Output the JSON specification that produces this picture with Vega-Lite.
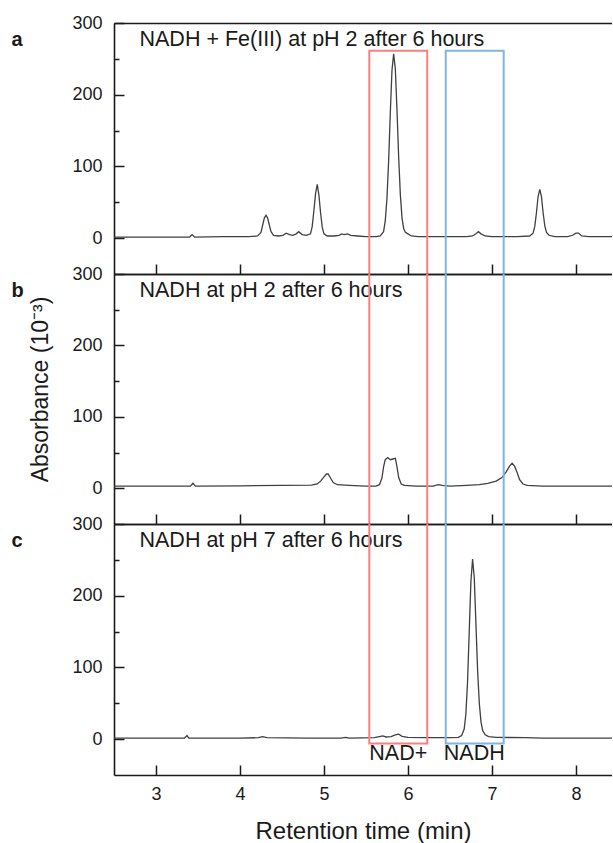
{
  "$schema": "https://vega.github.io/schema/vega-lite/v6.json",
  "padding": {"left": 11, "top": 14, "right": 0, "bottom": 0},
  "background": "white",
  "config": {
    "view": {"stroke": null},
    "font": "Liberation Sans",
    "axis": {
      "labelFont": "Liberation Sans", "titleFont": "Liberation Sans",
      "labelColor": "#1a1a1a", "titleColor": "#1a1a1a",
      "domainColor": "#1a1a1a", "tickColor": "#1a1a1a",
      "domainWidth": 1.6, "tickWidth": 1.5, "grid": false,
      "labelFontSize": 18, "titleFontWeight": "normal"
    },
    "text": {"font": "Liberation Sans"}
  },
  "datasets": {
    "a": [
      {"t":2.5,"v":1.5},{"t":3.0,"v":1.5},{"t":3.40,"v":1.5},{"t":3.43,"v":5},{"t":3.46,"v":1.5},{"t":3.8,"v":2},{"t":4.1,"v":2},
      {"t":4.21,"v":3},{"t":4.25,"v":8},{"t":4.27,"v":18},{"t":4.29,"v":28},{"t":4.31,"v":32},{"t":4.33,"v":28},{"t":4.35,"v":18},{"t":4.37,"v":9},{"t":4.40,"v":4},
      {"t":4.46,"v":3},{"t":4.51,"v":4},{"t":4.55,"v":7},{"t":4.59,"v":5},{"t":4.63,"v":4},{"t":4.67,"v":6},{"t":4.70,"v":9},{"t":4.74,"v":5},{"t":4.79,"v":4},
      {"t":4.84,"v":6},{"t":4.86,"v":16},{"t":4.88,"v":38},{"t":4.90,"v":62},{"t":4.92,"v":75},{"t":4.94,"v":60},{"t":4.96,"v":35},{"t":4.98,"v":15},{"t":5.00,"v":6},{"t":5.04,"v":3},
      {"t":5.12,"v":3},{"t":5.18,"v":4},{"t":5.21,"v":6},{"t":5.24,"v":5},{"t":5.28,"v":6},{"t":5.32,"v":4},{"t":5.40,"v":3},{"t":5.50,"v":2},{"t":5.62,"v":2},
      {"t":5.67,"v":3},{"t":5.71,"v":9},{"t":5.73,"v":24},{"t":5.75,"v":55},{"t":5.77,"v":107},{"t":5.79,"v":174},{"t":5.81,"v":234},{"t":5.83,"v":257},{"t":5.85,"v":236},{"t":5.87,"v":178},{"t":5.89,"v":112},{"t":5.91,"v":60},{"t":5.93,"v":28},{"t":5.95,"v":13},{"t":5.97,"v":8},{"t":6.00,"v":6},{"t":6.04,"v":3},
      {"t":6.12,"v":2},{"t":6.4,"v":2},{"t":6.7,"v":2},{"t":6.77,"v":3},{"t":6.81,"v":6},{"t":6.84,"v":9},{"t":6.87,"v":6},{"t":6.92,"v":3},{"t":7.0,"v":2},{"t":7.3,"v":2},
      {"t":7.45,"v":3},{"t":7.49,"v":7},{"t":7.51,"v":16},{"t":7.53,"v":35},{"t":7.55,"v":58},{"t":7.57,"v":68},{"t":7.59,"v":58},{"t":7.61,"v":35},{"t":7.63,"v":17},{"t":7.65,"v":8},{"t":7.68,"v":4},
      {"t":7.75,"v":2},{"t":7.9,"v":2},{"t":7.96,"v":4},{"t":8.00,"v":7},{"t":8.03,"v":7},{"t":8.07,"v":3},{"t":8.15,"v":2},{"t":8.43,"v":2}
    ],
    "b": [
      {"t":2.5,"v":3},{"t":3.0,"v":3},{"t":3.41,"v":3},{"t":3.44,"v":7},{"t":3.47,"v":3},{"t":4.0,"v":3.5},{"t":4.5,"v":4},{"t":4.85,"v":4.5},
      {"t":4.92,"v":6},{"t":4.96,"v":10},{"t":5.00,"v":16},{"t":5.03,"v":20},{"t":5.05,"v":20},{"t":5.08,"v":14},{"t":5.11,"v":8},{"t":5.16,"v":5},{"t":5.3,"v":4},{"t":5.5,"v":3},
      {"t":5.62,"v":3},{"t":5.66,"v":5},{"t":5.69,"v":14},{"t":5.71,"v":30},{"t":5.73,"v":40},{"t":5.76,"v":43},{"t":5.79,"v":40},{"t":5.82,"v":41},{"t":5.85,"v":42},{"t":5.87,"v":30},{"t":5.89,"v":15},{"t":5.92,"v":6},{"t":5.96,"v":4},
      {"t":6.1,"v":3},{"t":6.3,"v":3},{"t":6.36,"v":5},{"t":6.41,"v":4},{"t":6.5,"v":3},{"t":6.7,"v":4},{"t":6.85,"v":5},{"t":6.95,"v":7},{"t":7.05,"v":10},{"t":7.12,"v":15},{"t":7.17,"v":23},{"t":7.21,"v":31},{"t":7.24,"v":35},{"t":7.27,"v":31},{"t":7.30,"v":22},{"t":7.33,"v":12},{"t":7.37,"v":6},{"t":7.42,"v":4},
      {"t":7.6,"v":3},{"t":8.0,"v":3},{"t":8.43,"v":3}
    ],
    "c": [
      {"t":2.5,"v":1.5},{"t":3.0,"v":1.5},{"t":3.34,"v":1.5},{"t":3.37,"v":5},{"t":3.39,"v":1.5},{"t":4.0,"v":1.5},{"t":4.22,"v":2},{"t":4.27,"v":3.5},{"t":4.32,"v":2},{"t":4.8,"v":1.5},
      {"t":5.2,"v":1.5},{"t":5.26,"v":2.5},{"t":5.3,"v":1.5},{"t":5.6,"v":2},{"t":5.66,"v":3.5},{"t":5.70,"v":4.5},{"t":5.74,"v":3},{"t":5.80,"v":3.5},{"t":5.85,"v":6},{"t":5.89,"v":7},{"t":5.93,"v":4},{"t":6.0,"v":2.5},
      {"t":6.2,"v":2},{"t":6.5,"v":2},{"t":6.60,"v":2.5},{"t":6.64,"v":5},{"t":6.67,"v":14},{"t":6.69,"v":35},{"t":6.71,"v":80},{"t":6.73,"v":150},{"t":6.75,"v":220},{"t":6.77,"v":251},{"t":6.79,"v":225},{"t":6.81,"v":160},{"t":6.83,"v":95},{"t":6.85,"v":50},{"t":6.87,"v":24},{"t":6.89,"v":12},{"t":6.92,"v":6},{"t":6.96,"v":3.5},
      {"t":7.05,"v":2.5},{"t":7.4,"v":2},{"t":7.6,"v":1.5},{"t":8.0,"v":1.5},{"t":8.43,"v":1.5}
    ]
  },
  "spacing": 0,
  "bounds": "flush",
  "vconcat": [
    {
      "width": 498, "height": 251,
      "resolve": {"axis": {"x": "independent", "y": "independent"}},
      "layer": [
        {
          "data": {"name": "a"},
          "mark": {"type": "line", "color": "#404040", "strokeWidth": 1.3, "clip": true},
          "encoding": {
            "x": {"field": "t", "type": "quantitative", "scale": {"domain": [2.5, 8.43], "nice": false, "zero": false},
                  "axis": {"orient": "bottom", "values": [3,4,5,6,7,8], "labels": false, "tickSize": -10, "title": null}},
            "y": {"field": "v", "type": "quantitative", "scale": {"domain": [-50, 300], "nice": false, "zero": false},
                  "axis": {"orient": "left", "values": [0,100,200,300], "tickSize": -10, "labelPadding": 22,
                           "title": "a", "titleAngle": 0, "titleX": -103, "titleY": 22, "titleAlign": "left", "titleBaseline": "alphabetic", "titleFontWeight": "bold", "titleFontSize": 20}}
          }
        },
        {
          "data": {"values": [{"box": "NAD+", "t1": 5.54, "t2": 6.23, "hi": 261.4, "lo": -120}, {"box": "NADH", "t1": 6.45, "t2": 7.14, "hi": 261.4, "lo": -120}]},
          "mark": {"type": "rect", "filled": false, "strokeWidth": 2, "clip": true},
          "encoding": {
            "x": {"field": "t1", "type": "quantitative", "scale": {"domain": [2.5, 8.43], "nice": false, "zero": false},
                  "axis": {"orient": "top", "ticks": false, "labels": false, "title": "NADH + Fe(III) at pH 2 after 6 hours", "titleX": 25, "titleY": 22, "titleAlign": "left", "titleBaseline": "alphabetic", "titleFontSize": 21.5, "titleAngle": 0}},
            "x2": {"field": "t2"},
            "y": {"field": "hi", "type": "quantitative", "scale": {"domain": [-50, 300], "nice": false, "zero": false},
                  "axis": {"orient": "left", "values": [50,150,250], "tickSize": -5, "labels": false, "domain": false, "title": null}},
            "y2": {"field": "lo"},
            "color": {"field": "box", "type": "nominal", "scale": {"domain": ["NAD+", "NADH"], "range": ["#f98080", "#7fb5de"]}, "legend": null}
          }
        }
      ]
    },
    {
      "width": 498, "height": 250,
      "resolve": {"axis": {"x": "independent", "y": "independent"}},
      "layer": [
        {
          "data": {"name": "b"},
          "mark": {"type": "line", "color": "#404040", "strokeWidth": 1.3, "clip": true},
          "encoding": {
            "x": {"field": "t", "type": "quantitative", "scale": {"domain": [2.5, 8.43], "nice": false, "zero": false},
                  "axis": {"orient": "bottom", "values": [3,4,5,6,7,8], "labels": false, "tickSize": -10, "title": null}},
            "y": {"field": "v", "type": "quantitative", "scale": {"domain": [-50, 300], "nice": false, "zero": false},
                  "axis": {"orient": "left", "values": [0,100,200,300], "tickSize": -10, "labelPadding": 22,
                           "title": "b", "titleAngle": 0, "titleX": -103, "titleY": 22, "titleAlign": "left", "titleBaseline": "alphabetic", "titleFontWeight": "bold", "titleFontSize": 20}}
          }
        },
        {
          "data": {"values": [{"box": "NAD+", "t1": 5.54, "t2": 6.23, "hi": 400, "lo": -120}, {"box": "NADH", "t1": 6.45, "t2": 7.14, "hi": 400, "lo": -120}]},
          "mark": {"type": "rect", "filled": false, "strokeWidth": 2, "clip": true},
          "encoding": {
            "x": {"field": "t1", "type": "quantitative", "scale": {"domain": [2.5, 8.43], "nice": false, "zero": false},
                  "axis": {"orient": "top", "ticks": false, "labels": false, "title": "NADH at pH 2 after 6 hours", "titleX": 25, "titleY": 22, "titleAlign": "left", "titleBaseline": "alphabetic", "titleFontSize": 21.5, "titleAngle": 0}},
            "x2": {"field": "t2"},
            "y": {"field": "hi", "type": "quantitative", "scale": {"domain": [-50, 300], "nice": false, "zero": false},
                  "axis": {"orient": "left", "values": [50,150,250], "tickSize": -5, "labels": false, "domain": false,
                           "title": "Absorbance (10⁻³)", "titleAngle": -90, "titleX": -74, "titleY": 115, "titleAlign": "center", "titleBaseline": "middle", "titleFontSize": 23}},
            "y2": {"field": "lo"},
            "color": {"field": "box", "type": "nominal", "scale": {"domain": ["NAD+", "NADH"], "range": ["#f98080", "#7fb5de"]}, "legend": null}
          }
        }
      ]
    },
    {
      "width": 498, "height": 251,
      "resolve": {"axis": {"x": "independent", "y": "independent"}},
      "layer": [
        {
          "data": {"name": "c"},
          "mark": {"type": "line", "color": "#404040", "strokeWidth": 1.3, "clip": true},
          "encoding": {
            "x": {"field": "t", "type": "quantitative", "scale": {"domain": [2.5, 8.43], "nice": false, "zero": false},
                  "axis": {"orient": "bottom", "values": [3,4,5,6,7,8], "labels": true, "tickSize": -10, "labelPadding": 20, "labelFlush": false,
                           "title": "Retention time (min)", "titleFontSize": 24, "titleY": 63, "titleBaseline": "alphabetic"}},
            "y": {"field": "v", "type": "quantitative", "scale": {"domain": [-50, 300], "nice": false, "zero": false},
                  "axis": {"orient": "left", "values": [0,100,200,300], "tickSize": -10, "labelPadding": 22,
                           "title": "c", "titleAngle": 0, "titleX": -103, "titleY": 22, "titleAlign": "left", "titleBaseline": "alphabetic", "titleFontWeight": "bold", "titleFontSize": 20}}
          }
        },
        {
          "data": {"values": [{"box": "NAD+", "t1": 5.54, "t2": 6.23, "hi": 400, "lo": -6}, {"box": "NADH", "t1": 6.45, "t2": 7.14, "hi": 400, "lo": -6}]},
          "mark": {"type": "rect", "filled": false, "strokeWidth": 2, "clip": true},
          "encoding": {
            "x": {"field": "t1", "type": "quantitative", "scale": {"domain": [2.5, 8.43], "nice": false, "zero": false},
                  "axis": {"orient": "top", "ticks": false, "labels": false, "title": "NADH at pH 7 after 6 hours", "titleX": 25, "titleY": 22, "titleAlign": "left", "titleBaseline": "alphabetic", "titleFontSize": 21.5, "titleAngle": 0}},
            "x2": {"field": "t2"},
            "y": {"field": "hi", "type": "quantitative", "scale": {"domain": [-50, 300], "nice": false, "zero": false},
                  "axis": {"orient": "left", "values": [50,150,250], "tickSize": -5, "labels": false, "domain": false, "title": null}},
            "y2": {"field": "lo"},
            "color": {"field": "box", "type": "nominal", "scale": {"domain": ["NAD+", "NADH"], "range": ["#f98080", "#7fb5de"]}, "legend": null}
          }
        },
        {
          "data": {"values": [{"label": "NAD+", "t": 5.885}, {"label": "NADH", "t": 6.79}]},
          "mark": {"type": "text", "fontSize": 21.5, "align": "center", "baseline": "top", "color": "#1a1a1a"},
          "encoding": {
            "x": {"field": "t", "type": "quantitative", "scale": {"domain": [2.5, 8.43], "nice": false, "zero": false}, "axis": null},
            "y": {"datum": -6, "type": "quantitative", "scale": {"domain": [-50, 300], "nice": false, "zero": false}, "axis": null},
            "text": {"field": "label"}
          }
        }
      ]
    }
  ]
}
